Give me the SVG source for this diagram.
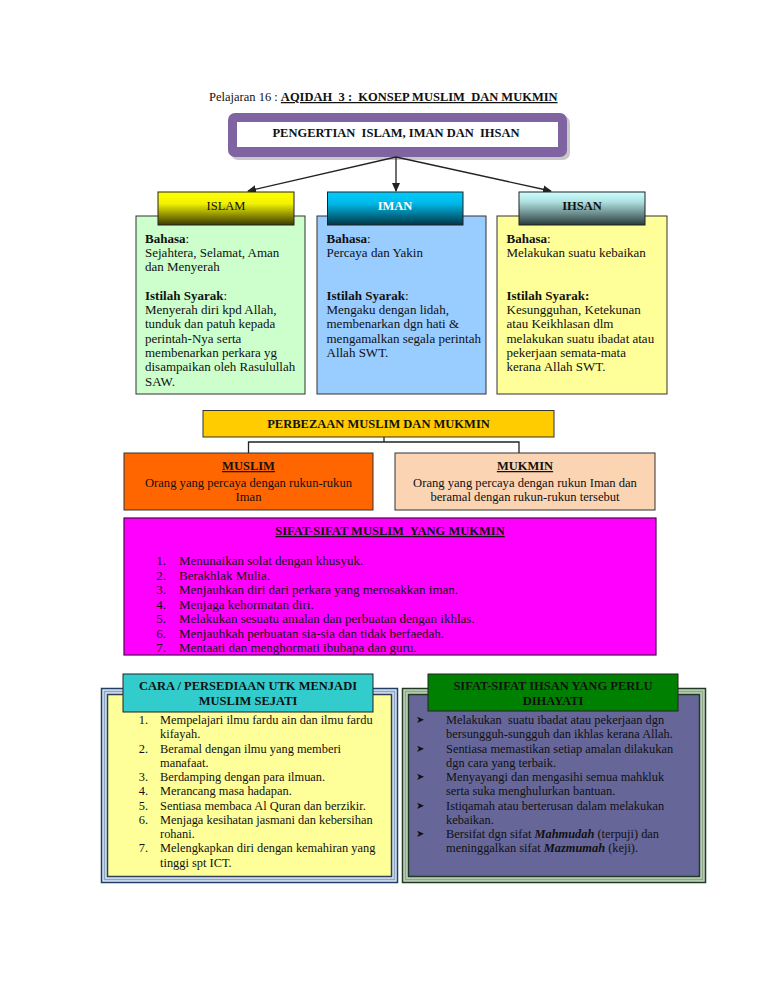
<svg xmlns="http://www.w3.org/2000/svg" width="768" height="994" viewBox="0 0 768 994">
<style>
.t{font-family:"Liberation Serif","Times New Roman",serif;fill:#111}
.b{font-weight:bold}
.h{font-size:12.5px}
.m{font-size:13px}
.l{font-size:12.4px}
.c{text-anchor:middle}
.e{text-anchor:end}
.u{text-decoration:underline}
.bx{stroke:#333;stroke-width:1}
.cn{fill:none;stroke:#222;stroke-width:1.3}
.bul{font-family:"DejaVu Sans",sans-serif;font-size:10px;fill:#111}
</style>
<defs>
<marker id="ah" markerWidth="9" markerHeight="8" refX="8" refY="4" orient="auto" markerUnits="userSpaceOnUse">
<path d="M0,0 L9,4 L0,8 z" fill="#222"/>
</marker>
<linearGradient id="gIslam" x1="0" y1="0" x2="0" y2="1">
<stop offset="0" stop-color="#ffff00"/><stop offset="0.35" stop-color="#f2f200"/><stop offset="1" stop-color="#3a3a00"/>
</linearGradient>
<linearGradient id="gIman" x1="0" y1="0" x2="0" y2="1">
<stop offset="0" stop-color="#00ccff"/><stop offset="0.35" stop-color="#00b8e6"/><stop offset="1" stop-color="#003646"/>
</linearGradient>
<linearGradient id="gIhsan" x1="0" y1="0" x2="0" y2="1">
<stop offset="0" stop-color="#ccffff"/><stop offset="0.3" stop-color="#aee0e0"/><stop offset="1" stop-color="#2a3a3a"/>
</linearGradient>
<clipPath id="clipSifat"><rect x="124" y="518" width="532" height="137"/></clipPath>
</defs>
<rect width="768" height="994" fill="#ffffff"/>

<g id="title">
<text class="t h" x="209" y="101" xml:space="preserve">Pelajaran 16 : <tspan class="b u">AQIDAH  3 :  KONSEP MUSLIM  DAN MUKMIN</tspan></text>
</g>

<g id="pengertian">
<rect x="231" y="116" width="339" height="44" rx="7" fill="#c8c8c8"/>
<rect x="228" y="113" width="339" height="44" rx="7" fill="#8064a2"/>
<rect x="237" y="122" width="321" height="25" fill="#ffffff"/>
<text class="t b h c" x="396" y="137" xml:space="preserve">PENGERTIAN  ISLAM, IMAN DAN  IHSAN</text>
</g>

<g id="connectors">
<line class="cn" x1="396" y1="157" x2="248" y2="191" marker-end="url(#ah)"/>
<line class="cn" x1="396" y1="157" x2="396" y2="191" marker-end="url(#ah)"/>
<line class="cn" x1="396" y1="157" x2="551" y2="191" marker-end="url(#ah)"/>
<polyline class="cn" points="384,437 384,442"/>
<polyline class="cn" points="248.5,453 248.5,442 519,442 519,453"/>
</g>

<g id="islam-box">
<rect class="bx" x="136" y="216" width="169" height="178" fill="#ccffcc"/>
<text class="t m" x="145" y="242.5"><tspan class="b">Bahasa</tspan>:</text>
<text class="t m" x="145" y="256.8">Sejahtera, Selamat, Aman</text>
<text class="t m" x="145" y="271.1">dan Menyerah</text>
<text class="t m" x="145" y="299.7"><tspan class="b">Istilah Syarak</tspan>:</text>
<text class="t m" x="145" y="314">Menyerah diri kpd Allah,</text>
<text class="t m" x="145" y="328.3">tunduk dan patuh kepada</text>
<text class="t m" x="145" y="342.6">perintah-Nya serta</text>
<text class="t m" x="145" y="356.9">membenarkan perkara yg</text>
<text class="t m" x="145" y="371.2">disampaikan oleh Rasulullah</text>
<text class="t m" x="145" y="385.5">SAW.</text>
</g>
<g id="islam">
<rect x="158" y="192" width="136" height="33" fill="url(#gIslam)" stroke="#222" stroke-width="1"/>
<text class="t h c" x="226" y="210">ISLAM</text>
</g>

<g id="iman-box">
<rect class="bx" x="317" y="216" width="169" height="178" fill="#99ccff"/>
<text class="t m" x="326.5" y="242.5"><tspan class="b">Bahasa</tspan>:</text>
<text class="t m" x="326.5" y="256.8">Percaya dan Yakin</text>
<text class="t m" x="326.5" y="299.7"><tspan class="b">Istilah Syarak</tspan>:</text>
<text class="t m" x="326.5" y="314">Mengaku dengan lidah,</text>
<text class="t m" x="326.5" y="328.3">membenarkan dgn hati &amp;</text>
<text class="t m" x="326.5" y="342.6">mengamalkan segala perintah</text>
<text class="t m" x="326.5" y="356.9">Allah SWT.</text>
</g>
<g id="iman">
<rect x="327.5" y="192" width="135.5" height="33" fill="url(#gIman)" stroke="#222" stroke-width="1"/>
<text class="t b h c" x="395" y="210" style="fill:#ffffff">IMAN</text>
</g>

<g id="ihsan-box">
<rect class="bx" x="497" y="216" width="170" height="178" fill="#ffff99"/>
<text class="t m" x="506.5" y="242.5"><tspan class="b">Bahasa</tspan>:</text>
<text class="t m" x="506.5" y="256.8">Melakukan suatu kebaikan</text>
<text class="t m b" x="506.5" y="299.7">Istilah Syarak:</text>
<text class="t m" x="506.5" y="314">Kesungguhan, Ketekunan</text>
<text class="t m" x="506.5" y="328.3">atau Keikhlasan dlm</text>
<text class="t m" x="506.5" y="342.6">melakukan suatu ibadat atau</text>
<text class="t m" x="506.5" y="356.9">pekerjaan semata-mata</text>
<text class="t m" x="506.5" y="371.2">kerana Allah SWT.</text>
</g>
<g id="ihsan">
<rect x="519" y="192" width="126" height="33" fill="url(#gIhsan)" stroke="#222" stroke-width="1"/>
<text class="t b h c" x="582" y="210">IHSAN</text>
</g>

<g id="perbezaan">
<rect class="bx" x="203" y="410.5" width="351" height="26.5" fill="#ffcc00"/>
<text class="t b h c" x="378.5" y="428">PERBEZAAN MUSLIM DAN MUKMIN</text>
</g>

<g id="muslim">
<rect class="bx" x="124" y="453" width="249" height="57" fill="#ff6600"/>
<text class="t b h c u" x="248.5" y="470">MUSLIM</text>
<text class="t m c" x="248.5" y="486.5" style="font-size:12.6px">Orang yang percaya dengan rukun-rukun</text>
<text class="t m c" x="248.5" y="500.5" style="font-size:12.6px">Iman</text>
</g>

<g id="mukmin">
<rect class="bx" x="395" y="453" width="260" height="57" fill="#fbd4b4"/>
<text class="t b h c u" x="525" y="470">MUKMIN</text>
<text class="t m c" x="525" y="486.5" style="font-size:12.6px">Orang yang percaya dengan rukun Iman dan</text>
<text class="t m c" x="525" y="500.5" style="font-size:12.6px">beramal dengan rukun-rukun tersebut</text>
</g>

<g id="sifat">
<rect x="124" y="518" width="532" height="137" fill="#ff00ff"/>
<text class="t b h c u" x="390" y="535" xml:space="preserve">SIFAT-SIFAT MUSLIM  YANG MUKMIN</text>
<g clip-path="url(#clipSifat)">
<text class="t m e" x="166" y="565">1.</text><text class="t m" x="179" y="565">Menunaikan solat dengan khusyuk.</text>
<text class="t m e" x="166" y="579.5">2.</text><text class="t m" x="179" y="579.5">Berakhlak Mulia.</text>
<text class="t m e" x="166" y="594">3.</text><text class="t m" x="179" y="594">Menjauhkan diri dari perkara yang merosakkan iman.</text>
<text class="t m e" x="166" y="608.5">4.</text><text class="t m" x="179" y="608.5">Menjaga kehormatan diri.</text>
<text class="t m e" x="166" y="623">5.</text><text class="t m" x="179" y="623">Melakukan sesuatu amalan dan perbuatan dengan ikhlas.</text>
<text class="t m e" x="166" y="637.5">6.</text><text class="t m" x="179" y="637.5">Menjauhkah perbuatan sia-sia dan tidak berfaedah.</text>
<text class="t m e" x="166" y="652">7.</text><text class="t m" x="179" y="652">Mentaati dan menghormati ibubapa dan guru.</text>
</g>
<rect x="124" y="518" width="532" height="137" fill="none" stroke="#4d004d" stroke-width="1.2"/>
</g>

<g id="cara-box">
<rect x="101.5" y="688.5" width="296" height="194" fill="#dbe5f1" stroke="#1f3f66" stroke-width="1.5"/>
<rect x="104.5" y="691.5" width="290" height="188" fill="none" stroke="#8aa6c8" stroke-width="1.5"/>
<rect x="107.5" y="694.5" width="284" height="182" fill="#ffff99" stroke="#2b3f5a" stroke-width="1.5"/>
<text class="t l e" x="148" y="724">1.</text><text class="t l" x="160" y="724">Mempelajari ilmu fardu ain dan ilmu fardu</text>
<text class="t l" x="160" y="738.25">kifayah.</text>
<text class="t l e" x="148" y="752.5">2.</text><text class="t l" x="160" y="752.5">Beramal dengan ilmu yang memberi</text>
<text class="t l" x="160" y="766.75">manafaat.</text>
<text class="t l e" x="148" y="781">3.</text><text class="t l" x="160" y="781">Berdamping dengan para ilmuan.</text>
<text class="t l e" x="148" y="795.25">4.</text><text class="t l" x="160" y="795.25">Merancang masa hadapan.</text>
<text class="t l e" x="148" y="809.5">5.</text><text class="t l" x="160" y="809.5">Sentiasa membaca Al Quran dan berzikir.</text>
<text class="t l e" x="148" y="823.75">6.</text><text class="t l" x="160" y="823.75">Menjaga kesihatan jasmani dan kebersihan</text>
<text class="t l" x="160" y="838">rohani.</text>
<text class="t l e" x="148" y="852.25">7.</text><text class="t l" x="160" y="852.25">Melengkapkan diri dengan kemahiran yang</text>
<text class="t l" x="160" y="866.5">tinggi spt ICT.</text>
</g>
<g id="cara">
<rect x="123" y="674" width="250" height="38" fill="#33cccc" stroke="#222" stroke-width="1"/>
<text class="t b h c" x="248" y="690">CARA / PERSEDIAAN UTK MENJADI</text>
<text class="t b h c" x="248" y="705">MUSLIM SEJATI</text>
</g>

<g id="ihsan-sifat-box">
<rect x="402.5" y="688.5" width="303" height="194" fill="#c5d5c0" stroke="#1f3b22" stroke-width="1.5"/>
<rect x="405.5" y="691.5" width="297" height="188" fill="none" stroke="#8fa88a" stroke-width="1.5"/>
<rect x="408.5" y="694.5" width="291" height="182" fill="#666699" stroke="#1e3a20" stroke-width="1.5"/>
<text class="bul" x="416" y="723">➤</text><text class="t l" x="446" y="724" xml:space="preserve">Melakukan  suatu ibadat atau pekerjaan dgn</text>
<text class="t l" x="446" y="738.25">bersungguh-sungguh dan ikhlas kerana Allah.</text>
<text class="bul" x="416" y="751.5">➤</text><text class="t l" x="446" y="752.5">Sentiasa memastikan setiap amalan dilakukan</text>
<text class="t l" x="446" y="766.75">dgn cara yang terbaik.</text>
<text class="bul" x="416" y="780">➤</text><text class="t l" x="446" y="781">Menyayangi dan mengasihi semua mahkluk</text>
<text class="t l" x="446" y="795.25">serta suka menghulurkan bantuan.</text>
<text class="bul" x="416" y="808.5">➤</text><text class="t l" x="446" y="809.5">Istiqamah atau berterusan dalam melakukan</text>
<text class="t l" x="446" y="823.75">kebaikan.</text>
<text class="bul" x="416" y="837">➤</text><text class="t l" x="446" y="838">Bersifat dgn sifat <tspan class="b" font-style="italic">Mahmudah</tspan> (terpuji) dan</text>
<text class="t l" x="446" y="852.25">meninggalkan sifat <tspan class="b" font-style="italic">Mazmumah</tspan> (keji).</text>
</g>
<g id="ihsan-sifat">
<rect x="428" y="674" width="250" height="37" fill="#008000" stroke="#222" stroke-width="1"/>
<text class="t b h c" x="553" y="690">SIFAT-SIFAT IHSAN YANG PERLU</text>
<text class="t b h c" x="553" y="705">DIHAYATI</text>
</g>
</svg>
